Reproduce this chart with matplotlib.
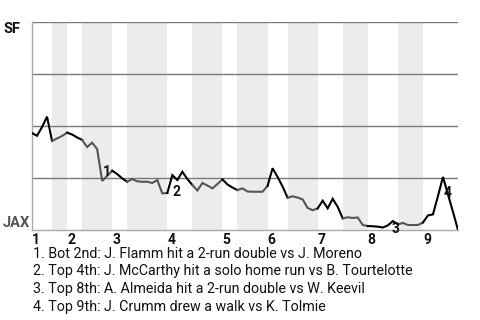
import matplotlib.pyplot as plt

plt.rcParams["font.family"] = ["Roboto", "DejaVu Sans"]

# plate appearances per half inning (top 1st .. top 9th)
half_inning_plays = [4, 3, 3, 6, 3, 8, 5, 6, 3, 6, 4, 6, 5, 5, 6, 5, 7]

# SF win probability (%) after each plate appearance
sf_win_pct = [
    46.6, 45.3, 49.5, 54.5, 42.8, 44.0, 45.2, 46.8, 45.9, 44.5,
    43.3, 39.9, 42.0, 38.9, 23.6, 26.0, 28.5, 26.9, 24.8, 23.2,
    24.5, 23.4, 23.2, 23.2, 22.6, 24.0, 17.6, 17.8, 26.4, 24.0,
    28.0, 24.5, 21.6, 19.0, 22.6, 21.4, 20.0, 22.1, 24.3, 21.9,
    20.4, 19.2, 20.0, 18.5, 18.4, 18.4, 18.4, 21.2, 29.7, 25.5,
    20.9, 15.5, 16.2, 15.6, 14.7, 10.6, 9.5, 10.4, 14.1, 10.4,
    15.0, 11.1, 5.6, 6.1, 5.8, 6.0, 2.4, 1.9, 1.8, 1.6,
    1.2, 2.2, 4.3, 2.7, 3.4, 2.4, 2.4, 2.4, 3.6, 7.0,
    7.5, 16.3, 25.5, 17.1, 8.7, 0.0,
]

inning_labels = ["1", "2", "3", "4", "5", "6", "7", "8", "9"]
team_top, team_bottom = "SF", "JAX"

event_plays = [14, 28, 72, 82]
event_offsets = [(3, 6.5), (3, -12), (2, -5.5), (3, -11.5)]
event_texts = [
    "1. Bot 2nd: J. Flamm hit a 2-run double vs J. Moreno",
    "2. Top 4th: J. McCarthy hit a solo home run vs B. Tourtelotte",
    "3. Top 8th: A. Almeida hit a 2-run double vs W. Keevil",
    "4. Top 9th: J. Crumm drew a walk vs K. Tolmie",
]

boundaries = [0]
for n in half_inning_plays:
    boundaries.append(boundaries[-1] + n)
total = boundaries[-1]

fig = plt.figure(figsize=(4.8, 3.2), dpi=100)
ax = fig.add_axes([32 / 480, 90 / 320, 426 / 480, 208 / 320])

# shaded bottom halves + coloured line segments
for k in range(len(half_inning_plays)):
    start, end = boundaries[k], boundaries[k + 1]
    bottom_half = k % 2 == 1
    if bottom_half:
        ax.axvspan(start, end, color="#ececec", lw=0, zorder=0)
    xs = list(range(start, end + 1))
    ax.plot(
        xs,
        sf_win_pct[start : end + 1],
        color="#555555" if bottom_half else "#000000",
        lw=1.5,
        solid_joinstyle="miter",
        zorder=3,
    )

for level in (25, 50, 75, 100):
    ax.axhline(level, color="#7a7a7a", lw=1, zorder=1)

ax.set_xlim(0, total)
ax.set_ylim(0, 100)
ax.set_xticks([])
ax.set_yticks([])
for side in ("top", "right"):
    ax.spines[side].set_visible(False)
for side in ("left", "bottom"):
    ax.spines[side].set_color("#aaaaaa")
    ax.spines[side].set_linewidth(1)

for i, label in enumerate(inning_labels):
    ax.annotate(
        label,
        xy=(boundaries[2 * i], 0),
        xycoords="data",
        xytext=(0, -2),
        textcoords="offset points",
        ha="left",
        va="top",
        fontsize=10,
        fontweight="bold",
        color="#111111",
        annotation_clip=False,
    )

ax.text(-0.068, 100, team_top, transform=ax.get_yaxis_transform(),
        ha="left", va="top", fontsize=10.5, fontweight="bold", color="#111111")
ax.text(-0.068, 0, team_bottom, transform=ax.get_yaxis_transform(),
        ha="left", va="bottom", fontsize=10.5, fontweight="bold", color="#555555")

for n, (play, offset) in enumerate(zip(event_plays, event_offsets)):
    ax.annotate(
        str(n + 1),
        xy=(play, sf_win_pct[play]),
        xytext=offset,
        textcoords="offset points",
        ha="center",
        va="center",
        fontsize=10,
        fontweight="bold",
        color="#111111",
        zorder=4,
        annotation_clip=False,
    )

for n, text in enumerate(event_texts):
    fig.text(33 / 480, 1 - (254 + 17.5 * n) / 320, text,
             ha="left", va="center", fontsize=10.3, color="#111111")

fig.savefig("out.png", dpi=100)
